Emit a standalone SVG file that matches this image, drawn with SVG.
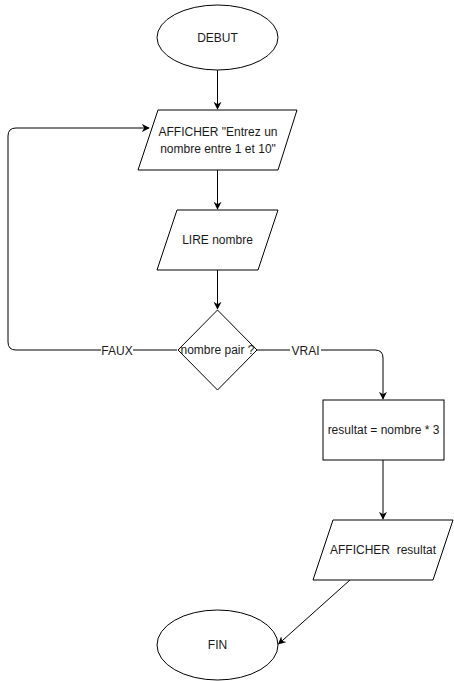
<svg xmlns="http://www.w3.org/2000/svg" width="454" height="681" viewBox="0 0 454 681">
  <style>
    .shape { fill: #ffffff; stroke: #000000; stroke-width: 1; }
    .edge { fill: none; stroke: #000000; stroke-width: 1; }
    .label { font-family: "Liberation Sans", Arial, sans-serif; font-size: 12px; fill: #1a1a1a; text-anchor: middle; dominant-baseline: central; white-space: pre; }
  </style>
  <defs>
    <marker id="arrow" viewBox="0 0 10 10" refX="9" refY="5" markerWidth="8" markerHeight="8" markerUnits="userSpaceOnUse" orient="auto">
      <path d="M0,0 L10,5 L0,10 L3,5 Z" fill="#000000"/>
    </marker>
  </defs>

  <rect width="454" height="681" fill="#ffffff"/>

  <!-- connectors -->
  <g id="connectors">
    <path class="edge" d="M217.5,70 L217.5,109" marker-end="url(#arrow)"/>
    <path class="edge" d="M217.5,170 L217.5,209" marker-end="url(#arrow)"/>
    <path class="edge" d="M217.5,270 L217.5,309" marker-end="url(#arrow)"/>
    <path class="edge" d="M177,350 L16,350 Q8,350 8,342 L8,136 Q8,128 16,128 L149,128" marker-end="url(#arrow)"/>
    <path class="edge" d="M257,350 L375,350 Q383,350 383,358 L383,399" marker-end="url(#arrow)"/>
    <path class="edge" d="M383,460 L383,519" marker-end="url(#arrow)"/>
    <path class="edge" d="M350,580 L278.5,644" marker-end="url(#arrow)"/>
    <rect x="101" y="343" width="32" height="15" fill="#ffffff"/>
    <text class="label" x="117" y="351">FAUX</text>
    <rect x="290" y="343" width="31" height="15" fill="#ffffff"/>
    <text class="label" x="305.5" y="351">VRAI</text>
  </g>

  <g id="debut">
    <ellipse class="shape" cx="217.5" cy="37.5" rx="60.5" ry="32.5"/>
    <text class="label" x="217.5" y="37.5">DEBUT</text>
  </g>

  <g id="afficher-saisie">
    <polygon class="shape" points="158,110 297,110 278,170 138,170"/>
    <text class="label" x="218" y="132">AFFICHER "Entrez un</text>
    <text class="label" x="218" y="149">nombre entre 1 et 10"</text>
  </g>

  <g id="lire-nombre">
    <polygon class="shape" points="177,210 278,210 258,270 157,270"/>
    <text class="label" x="217.5" y="240">LIRE nombre</text>
  </g>

  <g id="test-pair">
    <polygon class="shape" points="217.5,310 257,350 217.5,390 178,350"/>
    <text class="label" x="217.5" y="350">nombre pair ?</text>
  </g>

  <g id="calcul">
    <rect class="shape" x="323" y="400" width="121" height="60"/>
    <text class="label" x="383.5" y="430">resultat = nombre * 3</text>
  </g>

  <g id="afficher-resultat">
    <polygon class="shape" points="333,520 453,520 433,580 313,580"/>
    <text class="label" x="383" y="550" xml:space="preserve">AFFICHER  resultat</text>
  </g>

  <g id="fin">
    <ellipse class="shape" cx="217.5" cy="645" rx="60.5" ry="35"/>
    <text class="label" x="217.5" y="645">FIN</text>
  </g>
</svg>
